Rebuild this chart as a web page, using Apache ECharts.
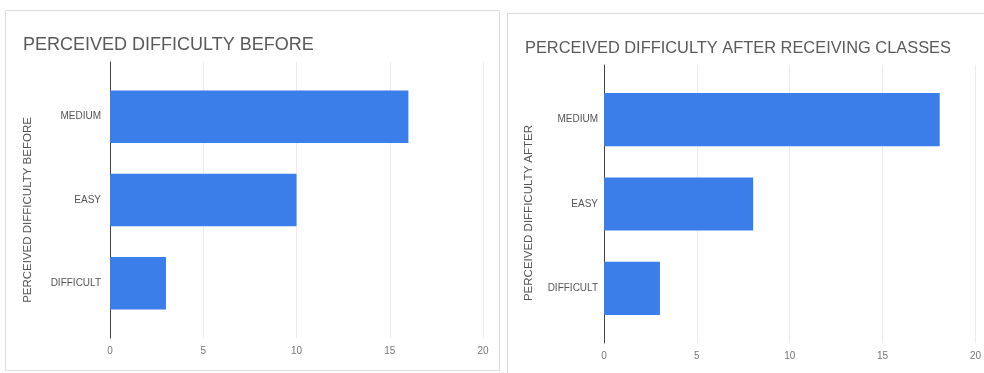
<!DOCTYPE html>
<html>
<head>
<meta charset="utf-8">
<style>
  html, body { margin: 0; padding: 0; background: #ffffff; }
  #chart { width: 984px; height: 373px; }
</style>
<script src="https://cdn.jsdelivr.net/npm/echarts@6/dist/echarts.min.js"></script>
</head>
<body>
<div id="chart"></div>
<script>
// Survey answers: how difficult students found the subject
const categories = ['MEDIUM', 'EASY', 'DIFFICULT'];
const beforeCounts = [16, 10, 3];
const afterCounts = [18, 8, 3];
const xTicks = [0, 5, 10, 15, 20];

const titleBefore = 'PERCEIVED DIFFICULTY BEFORE';
const titleAfter = 'PERCEIVED DIFFICULTY AFTER RECEIVING CLASSES';
const axisNameBefore = 'PERCEIVED DIFFICULTY BEFORE';
const axisNameAfter = 'PERCEIVED DIFFICULTY AFTER';

const BAR = '#3b7de9';
const FONT = 'Arial, "Liberation Sans", sans-serif';

const chart = echarts.init(document.getElementById('chart'), null, { renderer: 'canvas' });

// Each panel has an outer grid (baseline, gridlines, tick labels)
// and an inner grid (the bars), both sharing the same 0-20 scale.
function panelAxes(p) {
  const xMin = xTicks[0], xMax = xTicks[xTicks.length - 1];
  const step = xTicks[1] - xTicks[0];
  return {
    outerX: {
      gridIndex: p.outer, type: 'value', min: xMin, max: xMax, interval: step,
      axisLine: { show: false }, axisTick: { show: false },
      splitLine: { show: true, lineStyle: { color: '#ececec', width: 1 } },
      axisLabel: { color: '#777', fontSize: 10, fontFamily: FONT, margin: 8 }
    },
    outerY: {
      gridIndex: p.outer, type: 'value', min: 0, max: 1,
      axisLine: { show: true, onZero: false, lineStyle: { color: '#444', width: 1 } },
      axisTick: { show: false }, axisLabel: { show: false }, splitLine: { show: false },
      name: p.axisName, nameLocation: 'middle', nameGap: p.nameGap, nameRotate: 90,
      nameTextStyle: { color: '#555', fontSize: 11.5, fontFamily: FONT, padding: [0, p.shift, 0, 0] }
    },
    innerX: {
      gridIndex: p.inner, type: 'value', min: xMin, max: xMax, interval: step,
      show: false
    },
    innerY: {
      gridIndex: p.inner, type: 'category', data: categories, inverse: true,
      axisLine: { show: false }, axisTick: { show: false }, splitLine: { show: false },
      axisLabel: { color: '#555', fontSize: 10, fontFamily: FONT, margin: p.labelMargin }
    }
  };
}

const L = panelAxes({ outer: 0, inner: 1, axisName: axisNameBefore, nameGap: 76, shift: 20, labelMargin: 9 });
const R = panelAxes({ outer: 2, inner: 3, axisName: axisNameAfter, nameGap: 69, shift: 18, labelMargin: 6 });

const option = {
  animation: false,
  backgroundColor: '#ffffff',
  graphic: [
    { type: 'rect', shape: { x: 5.5, y: 10.5, width: 494, height: 360 },
      style: { fill: 'none', stroke: '#dcdcdc', lineWidth: 1 }, z: -1 },
    { type: 'rect', shape: { x: 507.5, y: 13.5, width: 480, height: 362 },
      style: { fill: 'none', stroke: '#dcdcdc', lineWidth: 1 }, z: -1 }
  ],
  title: [
    { text: titleBefore, left: 18, top: 31,
      textStyle: { color: '#5a5a5a', fontSize: 18, fontWeight: 'normal', fontFamily: FONT } },
    { text: titleAfter, left: 520, top: 35,
      textStyle: { color: '#5a5a5a', fontSize: 16.4, fontWeight: 'normal', fontFamily: FONT } }
  ],
  grid: [
    { left: 110, right: 984 - 483, top: 62, height: 276 },
    { left: 110, right: 984 - 483, top: 75, height: 250 },
    { left: 604, right: 984 - 977, top: 65, height: 278 },
    { left: 604, right: 984 - 977, top: 77.5, height: 253 }
  ],
  xAxis: [L.outerX, L.innerX, R.outerX, R.innerX],
  yAxis: [L.outerY, L.innerY, R.outerY, R.innerY],
  series: [
    { type: 'bar', xAxisIndex: 1, yAxisIndex: 1, data: beforeCounts,
      barCategoryGap: '37%', itemStyle: { color: BAR } },
    { type: 'bar', xAxisIndex: 3, yAxisIndex: 3, data: afterCounts,
      barCategoryGap: '37%', itemStyle: { color: BAR } }
  ]
};

chart.setOption(option);
</script>
</body>
</html>
